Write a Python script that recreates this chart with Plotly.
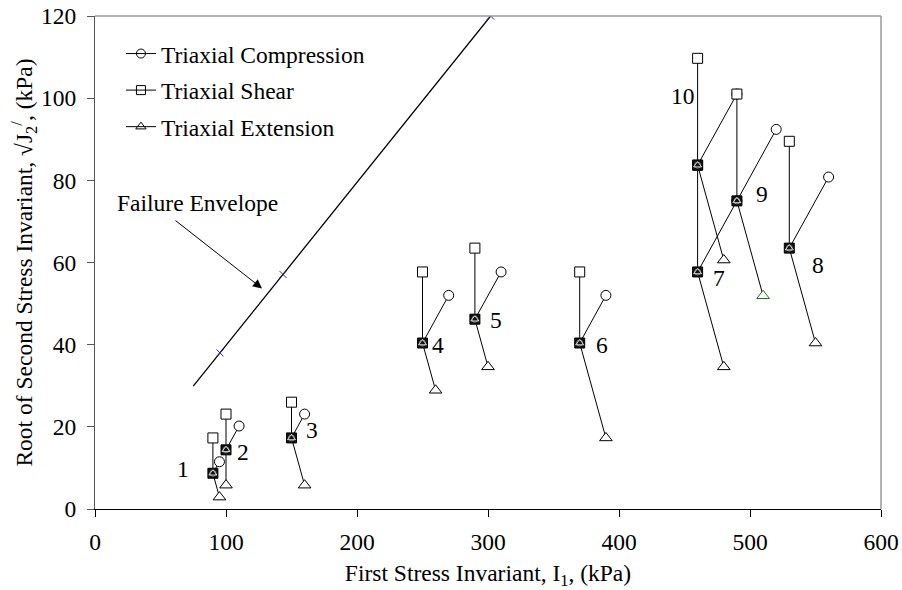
import plotly.graph_objects as go

# Stress paths for each triaxial test (I1 and sqrt(J2') in kPa)
tests = ["1", "2", "3", "4", "5", "6", "7", "8", "9", "10"]
start_I1 = [90, 100, 150, 250, 290, 370, 460, 530, 490, 460]
start_J2 = [8.7, 14.4, 17.3, 40.4, 46.2, 40.4, 57.7, 63.5, 75.0, 83.7]
comp_I1 = [95, 110, 160, 270, 310, 390, 490, 560, 520, 490]
comp_J2 = [11.5, 20.2, 23.1, 52.0, 57.7, 52.0, 75.0, 80.8, 92.4, 101.0]
shear_I1 = [90, 100, 150, 250, 290, 370, 460, 530, 490, 460]
shear_J2 = [17.3, 23.1, 26.0, 57.7, 63.5, 57.7, 83.7, 89.5, 101.0, 109.7]
ext_I1 = [95, 100, 160, 260, 300, 390, 480, 550, 510, 480]
ext_J2 = [2.9, 5.8, 5.8, 28.9, 34.6, 17.3, 34.6, 40.4, 51.9, 60.6]

# Test number label positions
label_I1 = [67, 113, 166, 262, 306, 387, 476, 552, 509, 449]
label_J2 = [9.8, 13.9, 19.3, 40.0, 46.0, 40.0, 56.3, 59.3, 76.6, 100.5]

# Failure envelope
env_line_I1 = [75, 302]
env_line_J2 = [29.9, 120.0]
env_pts_I1 = [95.4, 143.5, 302]
env_pts_J2 = [38.0, 57.1, 120.0]

FONT = "Liberation Serif"
FS = 23.5
fig = go.Figure()

# path segments from each starting point
seg_x, seg_y = [], []
for i in range(len(tests)):
    for ex, ey in ((comp_I1, comp_J2), (shear_I1, shear_J2), (ext_I1, ext_J2)):
        seg_x += [start_I1[i], ex[i], None]
        seg_y += [start_J2[i], ey[i], None]
fig.add_trace(go.Scatter(x=seg_x, y=seg_y, mode="lines",
                         line=dict(color="black", width=1), showlegend=False,
                         hoverinfo="skip"))

# envelope
fig.add_trace(go.Scatter(x=env_line_I1, y=env_line_J2, mode="lines",
                         line=dict(color="black", width=1.3), showlegend=False))
fig.add_trace(go.Scatter(x=env_pts_I1, y=env_pts_J2, mode="markers",
                         marker=dict(symbol="x-thin-open", size=7, color="#2b2b9a",
                                     line=dict(color="#2b2b9a", width=1)),
                         showlegend=False))

mk = dict(size=10, color="white", line=dict(color="black", width=1))
ext_colors = ["black"] * len(tests)
ext_colors[8] = "#1f6b1f"

fig.add_trace(go.Scatter(x=comp_I1, y=comp_J2, mode="markers",
                         marker=dict(symbol="circle", **mk), showlegend=False))
fig.add_trace(go.Scatter(x=shear_I1, y=shear_J2, mode="markers",
                         marker=dict(symbol="square", **mk), showlegend=False))
fig.add_trace(go.Scatter(x=ext_I1, y=ext_J2, mode="markers",
                         marker=dict(symbol="triangle-up", size=11, color="white",
                                     line=dict(color=ext_colors, width=1)),
                         showlegend=False))

# starting points: the three markers overlap into a dark block
fig.add_trace(go.Scatter(x=start_I1, y=start_J2, mode="markers",
                         marker=dict(symbol="square", size=10, color="#111",
                                     line=dict(color="black", width=1)),
                         showlegend=False))
fig.add_trace(go.Scatter(x=start_I1, y=start_J2, mode="markers",
                         marker=dict(symbol="triangle-up-open", size=7, color="white",
                                     line=dict(color="white", width=0.8)),
                         showlegend=False))
fig.add_trace(go.Scatter(x=start_I1, y=start_J2, mode="markers",
                         marker=dict(symbol="circle-open", size=6, color="#cfcfcf",
                                     line=dict(color="#cfcfcf", width=0.6)),
                         showlegend=False))

# legend entries
for name, sym, grp in (("Triaxial Compression", "circle-open", "a"),
                       ("Triaxial Shear", "square-open", "b"),
                       ("Triaxial Extension", "triangle-up-open", "c")):
    fig.add_trace(go.Scatter(x=[None], y=[None], mode="lines+markers", name=name,
                             legendgroup=grp,
                             line=dict(color="black", width=1),
                             marker=dict(symbol=sym, size=9, color="black",
                                         line=dict(color="black", width=1))))

annotations = []
for t, lx, ly in zip(tests, label_I1, label_J2):
    annotations.append(dict(x=lx, y=ly, text=t, showarrow=False,
                            font=dict(family=FONT, size=FS, color="black")))
annotations.append(dict(x=78.6, y=74.6, text="Failure Envelope", showarrow=False,
                        font=dict(family=FONT, size=FS, color="black")))
annotations.append(dict(x=127.5, y=53.7, ax=60.3, ay=70.5, axref="x", ayref="y",
                        text="", showarrow=True, arrowhead=2, arrowsize=1.8,
                        arrowwidth=1, arrowcolor="black"))

fig.update_layout(
    width=902, height=590,
    margin=dict(l=95, r=21, t=16, b=81),
    paper_bgcolor="white", plot_bgcolor="white",
    font=dict(family=FONT, size=FS, color="black"),
    showlegend=True,
    legend=dict(x=0.033, y=0.968, xanchor="left", yanchor="top",
                bgcolor="rgba(0,0,0,0)", font=dict(family=FONT, size=FS),
                traceorder="grouped", tracegroupgap=3, itemwidth=30),
    annotations=annotations,
    shapes=[
        dict(type="line", xref="paper", yref="paper", x0=0, x1=1, y0=1, y1=1,
             line=dict(color="#9a9a9a", width=1.5)),
        dict(type="line", xref="paper", yref="paper", x0=1, x1=1, y0=0, y1=1,
             line=dict(color="#9a9a9a", width=1.5)),
    ],
)

fig.update_xaxes(range=[0, 600], dtick=100, tick0=0, showgrid=False, zeroline=False,
                 automargin=False,
                 showline=True, linecolor="black", linewidth=1.3,
                 ticks="outside", ticklen=7, tickcolor="black",
                 ticklabelstandoff=5,
                 title=dict(text="First Stress Invariant, I<sub>1</sub>, (kPa)",
                            font=dict(family=FONT, size=FS), standoff=11))
fig.update_yaxes(range=[0, 120], dtick=20, tick0=0, showgrid=False, zeroline=False,
                 automargin=False,
                 showline=True, linecolor="#555", linewidth=1.3,
                 ticks="outside", ticklen=7, tickcolor="#555",
                 ticklabelstandoff=6,
                 title=dict(text="Root of Second Stress Invariant, √J<sub>2</sub><sup>/</sup>, (kPa)",
                            font=dict(family=FONT, size=FS), standoff=0))

fig.write_html("out.html")
